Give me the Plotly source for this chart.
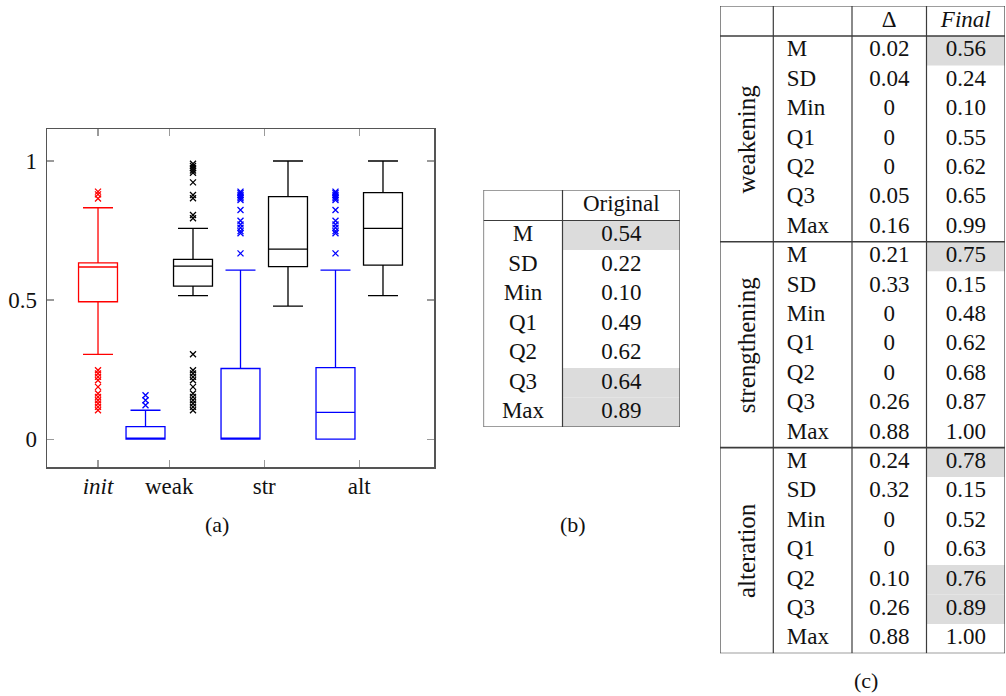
import plotly.graph_objects as go

W, H = 1006, 696
FONT = "Liberation Serif"

# ---------------- data ----------------
categories = ["init", "weak", "str", "alt"]
category_ticktext = ["<i>init</i>", "weak", "str", "alt"]
y_tickvals = [0, 0.5, 1]
y_ticktext = ["0", "0.5", "1"]

# original (init) distribution  (red)
init_q1 = 0.494
init_median = 0.619
init_q3 = 0.634
init_lower = 0.305
init_upper = 0.832
init_outliers = [0.89, 0.88, 0.865, 0.248, 0.236, 0.224, 0.212, 0.188, 0.164,
                 0.152, 0.14, 0.128, 0.116, 0.104]

# delta per operator: weak, str, alt  (blue)
delta_q1 = [0.0, 0.0, 0.0]
delta_median = [0.0, 0.0, 0.096]
delta_q3 = [0.045, 0.254, 0.257]
delta_lower = [0.0, 0.0, 0.0]
delta_upper = [0.104, 0.608, 0.608]
delta_outliers = [
    [0.158, 0.14, 0.122],
    [0.89, 0.885, 0.878, 0.872, 0.866, 0.86, 0.824, 0.785, 0.772, 0.76, 0.748, 0.74, 0.668],
    [0.89, 0.885, 0.878, 0.872, 0.866, 0.86, 0.824, 0.785, 0.772, 0.76, 0.748, 0.74, 0.668],
]

# final per operator: weak, str, alt  (black)
final_q1 = [0.55, 0.62, 0.626]
final_median = [0.622, 0.683, 0.758]
final_q3 = [0.646, 0.872, 0.886]
final_lower = [0.516, 0.478, 0.516]
final_upper = [0.758, 1.0, 1.0]
final_outliers = [
    [0.99, 0.982, 0.974, 0.966, 0.958, 0.923, 0.878, 0.866, 0.806, 0.794,
     0.305, 0.248, 0.236, 0.224, 0.212, 0.188, 0.164, 0.152, 0.14, 0.128, 0.116, 0.104],
    [],
    [],
]

# table (b)
stat_names = ["M", "SD", "Min", "Q1", "Q2", "Q3", "Max"]
original_header = "Original"
original_values = ["0.54", "0.22", "0.10", "0.49", "0.62", "0.64", "0.89"]
original_highlight = [1, 0, 0, 0, 0, 1, 1]

# table (c)
operators = ["weakening", "strengthening", "alteration"]
table_c_headers = ["Δ", "<i>Final</i>"]
delta_values = [
    ["0.02", "0.04", "0", "0", "0", "0.05", "0.16"],
    ["0.21", "0.33", "0", "0", "0", "0.26", "0.88"],
    ["0.24", "0.32", "0", "0", "0.10", "0.26", "0.88"],
]
final_values = [
    ["0.56", "0.24", "0.10", "0.55", "0.62", "0.65", "0.99"],
    ["0.75", "0.15", "0.48", "0.62", "0.68", "0.87", "1.00"],
    ["0.78", "0.15", "0.52", "0.63", "0.76", "0.89", "1.00"],
]
final_highlight = [
    [1, 0, 0, 0, 0, 0, 0],
    [1, 0, 0, 0, 0, 0, 0],
    [1, 0, 0, 0, 1, 1, 0],
]

# ---------------- layout constants ----------------
RED, BLUE, BLACK = "#ff0000", "#0000ff", "#000000"
cat_pos = [1.0, 1.75, 2.75, 3.75]
pair_off = 0.25
box_w = 0.41
LINE = "#3c3c3c"
SHADE = "#dcdcdc"


def xdom(a, b):
    return [a / W, b / W]


def ydom(top, bottom):
    return [1 - bottom / H, 1 - top / H]


fig = go.Figure()


def add_box(pos, q1, med, q3, lo, hi, color):
    fig.add_trace(go.Box(
        x=[pos], q1=[q1], median=[med], q3=[q3], lowerfence=[lo], upperfence=[hi],
        width=box_w, whiskerwidth=0.77, boxpoints=False,
        line=dict(color=color, width=1.3), fillcolor="rgba(0,0,0,0)",
        showlegend=False, hoverinfo="skip", xaxis="x", yaxis="y"))


def add_outliers(pos, vals, color):
    if not vals:
        return
    fig.add_trace(go.Scatter(
        x=[pos] * len(vals), y=vals, mode="markers",
        marker=dict(symbol="x-thin", size=6, color=color, line=dict(color=color, width=1.3)),
        showlegend=False, hoverinfo="skip", xaxis="x", yaxis="y", cliponaxis=False))


# (a) box plot
add_box(cat_pos[0], init_q1, init_median, init_q3, init_lower, init_upper, RED)
add_outliers(cat_pos[0], init_outliers, RED)
for i in range(3):
    p = cat_pos[i + 1]
    add_box(p - pair_off, delta_q1[i], delta_median[i], delta_q3[i], delta_lower[i], delta_upper[i], BLUE)
    add_outliers(p - pair_off, delta_outliers[i], BLUE)
    add_box(p + pair_off, final_q1[i], final_median[i], final_q3[i], final_lower[i], final_upper[i], BLACK)
    add_outliers(p + pair_off, final_outliers[i], BLACK)

# ---------------- table (b) ----------------
B_X0, B_X1, B_Y0, B_Y1 = 483.5, 680.0, 190.0, 427.0
B_SPLIT = 562.5 - B_X0
B_HEAD = 30.5
BW, BH = B_X1 - B_X0, B_Y1 - B_Y0
b_rh = (BH - B_HEAD) / len(stat_names)
b_rows = [B_HEAD + b_rh * (i + 0.5) for i in range(len(stat_names))]
tfont = dict(family=FONT, size=23, color="#111")
rot_font = dict(family=FONT, size=25, color="#111")

fig.add_trace(go.Scatter(x=[B_SPLIT / 2] * len(stat_names), y=b_rows, text=stat_names,
                         mode="text", textfont=tfont, xaxis="x2", yaxis="y2",
                         showlegend=False, hoverinfo="skip", cliponaxis=False))
fig.add_trace(go.Scatter(x=[(B_SPLIT + BW) / 2] * (len(original_values) + 1),
                         y=[B_HEAD / 2] + b_rows, text=[original_header] + original_values,
                         mode="text", textfont=tfont, xaxis="x2", yaxis="y2",
                         showlegend=False, hoverinfo="skip", cliponaxis=False))

shapes = []
for i, h in enumerate(original_highlight):
    if h:
        shapes.append(dict(type="rect", xref="x2", yref="y2", x0=B_SPLIT, x1=BW,
                           y0=B_HEAD + b_rh * i, y1=B_HEAD + b_rh * (i + 1),
                           fillcolor=SHADE, line=dict(width=0), layer="below"))
for y in [0, B_HEAD, BH]:
    shapes.append(dict(type="line", xref="x2", yref="y2", x0=0, x1=BW, y0=y, y1=y,
                       line=dict(color=LINE, width=1.2)))
for x in [0, B_SPLIT, BW]:
    shapes.append(dict(type="line", xref="x2", yref="y2", x0=x, x1=x, y0=0, y1=BH,
                       line=dict(color=LINE, width=1.2)))

# ---------------- table (c) ----------------
C_X0, C_X1, C_Y0, C_Y1 = 720.0, 1005.0, 6.0, 653.3
CW, CH = C_X1 - C_X0, C_Y1 - C_Y0
c_cols = [0, 773.3 - C_X0, 852.0 - C_X0, 926.5 - C_X0, CW]
C_HEAD = 30.0
n_rows = len(operators) * len(stat_names)
c_rh = (CH - C_HEAD) / n_rows
label_x = c_cols[1] + 13.5
delta_x = (c_cols[2] + c_cols[3]) / 2
final_x = (c_cols[3] + c_cols[4]) / 2

c_lab_y, c_lab_t, c_d_y, c_d_t, c_f_y, c_f_t = [], [], [], [], [], []
for g in range(len(operators)):
    for i in range(len(stat_names)):
        yc = C_HEAD + c_rh * (g * len(stat_names) + i + 0.5)
        c_lab_y.append(yc)
        c_lab_t.append(stat_names[i])
        c_d_y.append(yc)
        c_d_t.append(delta_values[g][i])
        c_f_y.append(yc)
        c_f_t.append(final_values[g][i])
        if final_highlight[g][i]:
            shapes.append(dict(type="rect", xref="x3", yref="y3", x0=c_cols[3], x1=CW,
                               y0=yc - c_rh / 2, y1=yc + c_rh / 2,
                               fillcolor=SHADE, line=dict(width=0), layer="below"))

fig.add_trace(go.Scatter(x=[label_x] * len(c_lab_y), y=c_lab_y, text=c_lab_t, mode="text",
                         textposition="middle right", textfont=tfont, xaxis="x3", yaxis="y3",
                         showlegend=False, hoverinfo="skip", cliponaxis=False))
fig.add_trace(go.Scatter(x=[delta_x] * (len(c_d_y) + 1), y=[C_HEAD / 2] + c_d_y,
                         text=[table_c_headers[0]] + c_d_t, mode="text", textfont=tfont,
                         xaxis="x3", yaxis="y3", showlegend=False, hoverinfo="skip", cliponaxis=False))
fig.add_trace(go.Scatter(x=[final_x] * (len(c_f_y) + 1), y=[C_HEAD / 2] + c_f_y,
                         text=[table_c_headers[1]] + c_f_t, mode="text", textfont=tfont,
                         xaxis="x3", yaxis="y3", showlegend=False, hoverinfo="skip", cliponaxis=False))

annotations = []
for g, op in enumerate(operators):
    yc = C_HEAD + c_rh * len(stat_names) * (g + 0.5)
    annotations.append(dict(xref="x3", yref="y3", x=c_cols[1] / 2, y=yc, text=op,
                            textangle=-90, showarrow=False, font=rot_font))

hlines = [0, C_HEAD] + [C_HEAD + c_rh * len(stat_names) * (g + 1) for g in range(len(operators))]
for k, y in enumerate(hlines):
    shapes.append(dict(type="line", xref="x3", yref="y3", x0=0, x1=CW, y0=y, y1=y,
                       line=dict(color=LINE, width=1.2 if k in (0, len(hlines) - 1) else 1.7)))
for x in c_cols:
    shapes.append(dict(type="line", xref="x3", yref="y3", x0=x, x1=x, y0=0, y1=CH,
                       line=dict(color=LINE, width=1.2)))

# captions
cap_font = dict(family=FONT, size=22, color="#111")
for txt, cx, cy in [("(a)", 217, 524), ("(b)", 573, 524), ("(c)", 866, 680)]:
    annotations.append(dict(xref="paper", yref="paper", x=cx / W, y=1 - cy / H, text=txt,
                            showarrow=False, font=cap_font, xanchor="center", yanchor="middle"))

axis_font = dict(family=FONT, size=23, color="#111")
hidden = dict(visible=False, showgrid=False, zeroline=False, fixedrange=True)

fig.update_layout(
    width=W, height=H, margin=dict(l=0, r=0, t=0, b=0),
    paper_bgcolor="white", plot_bgcolor="white", showlegend=False,
    xaxis=dict(domain=xdom(47, 434), range=[0.463, 4.537], tickvals=cat_pos,
               ticktext=category_ticktext, ticks="inside", ticklen=7, tickwidth=1.2,
               tickcolor="#9a9a9a", showline=True, linecolor="#555", linewidth=1.5,
               mirror="allticks", showgrid=False, zeroline=False, tickfont=axis_font,
               ticklabelstandoff=-2, anchor="y"),
    yaxis=dict(domain=ydom(129, 467), range=[-0.1, 1.115], tickvals=y_tickvals,
               ticktext=y_ticktext, ticks="inside", ticklen=7, tickwidth=1.2,
               tickcolor="#9a9a9a", showline=True, linecolor="#555", linewidth=1.5,
               mirror="allticks", showgrid=False, zeroline=False, tickfont=axis_font,
               ticklabelstandoff=4, anchor="x"),
    xaxis2=dict(domain=xdom(B_X0, B_X1), range=[0, BW], anchor="y2", **hidden),
    yaxis2=dict(domain=ydom(B_Y0, B_Y1), range=[BH, 0], anchor="x2", **hidden),
    xaxis3=dict(domain=xdom(C_X0, C_X1), range=[0, CW], anchor="y3", **hidden),
    yaxis3=dict(domain=ydom(C_Y0, C_Y1), range=[CH, 0], anchor="x3", **hidden),
    shapes=shapes, annotations=annotations,
)

fig.write_html("out.html",
               config={"displayModeBar": False, "staticPlot": True},
               post_script="document.body.style.margin='0';document.body.style.overflow='hidden';")
